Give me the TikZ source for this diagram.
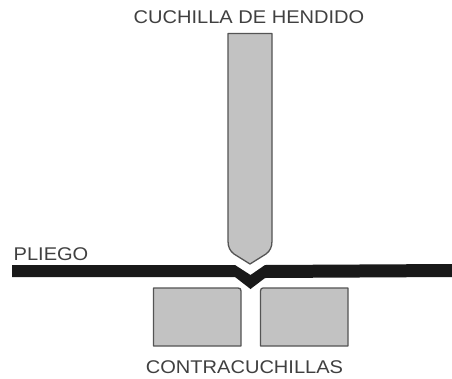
\documentclass[tikz,border=0pt]{standalone}
\usepackage{fontspec}
\setmainfont[FakeStretch=1.09]{Liberation Sans}
\definecolor{bladegray}{gray}{0.76}
\definecolor{edgegray}{gray}{0.33}
\definecolor{sheetblack}{gray}{0.1}
\definecolor{labelgray}{gray}{0.25}
\tikzset{
  part/.style={fill=bladegray,draw=edgegray,line width=1.3pt,line join=round},
  sheet/.style={fill=sheetblack,draw=none},
  lbl/.style={inner sep=0pt,text=labelgray,font=\fontsize{18.4}{22}\selectfont}
}
\begin{document}
\begin{tikzpicture}[x=1pt,y=-1pt]
\useasboundingbox (0,0) rectangle (452,378);
\fill[white] (0,0) rectangle (452,378);
\path[part] (228,33.5) -- (272,33.5) -- (272,241) .. controls (272,247) and (270,251) .. (266,254) -- (250,264) -- (234,254) .. controls (230,251) and (228,247) .. (228,241) -- cycle;
\path[sheet] (12,265) -- (235,265) -- (250.5,275) -- (265,265) -- (452,264) -- (452,277) -- (265,278) -- (250.5,289) -- (235,277) -- (12,277) -- cycle;
\path[part] (153.5,288) -- (238,288) .. controls (240,288) and (241,289) .. (241,291) -- (241,346) -- (153.5,346) -- cycle;
\path[part] (263,288) -- (348,288) -- (348,346) -- (260.5,346) -- (260.5,291) .. controls (260.5,289) and (261.5,288) .. (263,288) -- cycle;
\node[lbl] (cuchilla) at (249,17.5) {CUCHILLA DE HENDIDO};
\node[lbl] (pliego) at (51,254.5) {PLIEGO};
\node[lbl] (contra) at (244.5,367.5) {CONTRACUCHILLAS};
\end{tikzpicture}
\end{document}
